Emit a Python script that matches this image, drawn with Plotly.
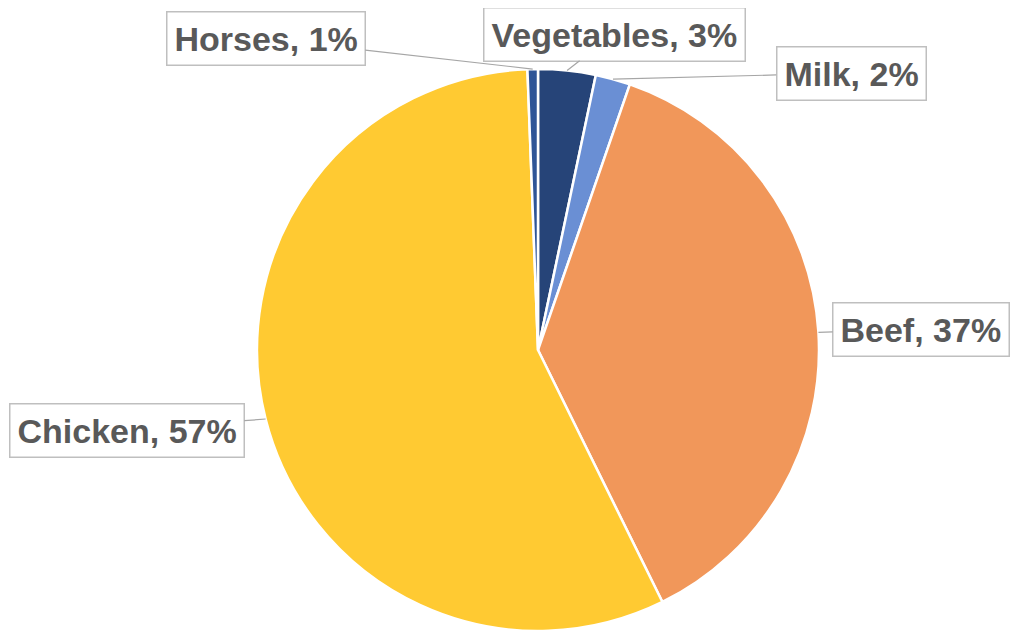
import math
import plotly.graph_objects as go

# slice data, clockwise from 12 o'clock
labels = ["Vegetables", "Milk", "Beef", "Chicken", "Horses"]
values = [3.3, 2.0, 37.4, 56.7, 0.6]
pct_text = ["3%", "2%", "37%", "57%", "1%"]
colors = ["#264478", "#6A8FD4", "#F1975A", "#FFCA32", "#2F5597"]

# callout box centres (pixels, from top-left of page)
box_px = [(614, 34), (851, 73), (921, 329), (127, 430), (266, 39)]

W, H = 1019, 635
OFF = 8  # default body margin of the html page
cx, cy, R = 538 - OFF, 350 - OFF, 281

fig = go.Figure(go.Pie(
    labels=labels,
    values=values,
    sort=False,
    direction="clockwise",
    rotation=0,
    marker=dict(colors=colors, line=dict(color="white", width=2.5)),
    textinfo="none",
    hoverinfo="label+percent",
    showlegend=False,
    domain=dict(x=[(cx - R) / W, (cx + R) / W],
                y=[(H - cy - R) / H, (H - cy + R) / H]),
))

# callouts: point at mid angle of each slice
total = sum(values)
cum = 0
for lab, val, pt, (bx, by) in zip(labels, values, pct_text, box_px):
    mid = (cum + val / 2) / total * 2 * math.pi
    cum += val
    px = cx + R * math.sin(mid)
    py = cy - R * math.cos(mid)
    fig.add_annotation(
        x=px / W, y=1 - py / H, xref="paper", yref="paper",
        ax=(bx - OFF) - px, ay=(by - OFF) - py,
        text=f"<b>{lab}, {pt}</b>",
        showarrow=True, arrowhead=0, arrowwidth=1.2, arrowcolor="#A6A6A6",
        standoff=0,
        font=dict(family="Liberation Sans, Arial", size=34, color="#595959"),
        bgcolor="white", bordercolor="#BFBFBF", borderwidth=1.5, borderpad=7,
    )

fig.update_layout(
    width=W, height=H,
    margin=dict(l=0, r=0, t=0, b=0),
    paper_bgcolor="white",
)

fig.write_html("out.html")
